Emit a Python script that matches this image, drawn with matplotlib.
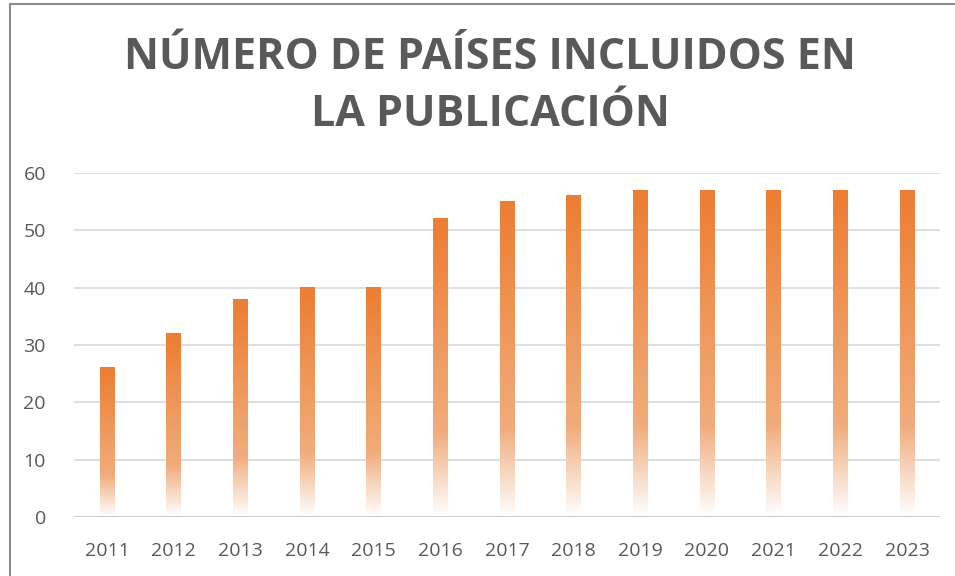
import matplotlib.pyplot as plt
import numpy as np
from matplotlib.colors import LinearSegmentedColormap
from matplotlib.lines import Line2D

years = ['2011', '2012', '2013', '2014', '2015', '2016', '2017',
         '2018', '2019', '2020', '2021', '2022', '2023']
countries = [26, 32, 38, 40, 40, 52, 55, 56, 57, 57, 57, 57, 57]

title = 'NÚMERO DE PAÍSES INCLUIDOS EN\nLA PUBLICACIÓN'

plt.rcParams['font.family'] = ['Open Sans', 'DejaVu Sans']

fig = plt.figure(figsize=(9.55, 5.76), dpi=100)
ax = fig.add_axes([73.7 / 955, 1 - 517 / 576, (940.3 - 73.7) / 955, (517 - 173) / 576])

# gradient: white at bottom -> orange at top
cmap = LinearSegmentedColormap.from_list(
    'fade', [(0.0, '#FFFFFF'), (0.12, '#F8DCC8'), (0.28, '#F1AC7C'), (1.0, '#ED7D31')])
grad = np.linspace(0, 1, 256).reshape(-1, 1)

x = np.arange(len(years))
w = 0.22
for xi, v in zip(x, countries):
    ax.imshow(grad, extent=[xi - w / 2, xi + w / 2, 0, v], origin='lower',
              cmap=cmap, aspect='auto', zorder=3, interpolation='nearest')

ax.set_xlim(-0.5, len(years) - 0.5)
ax.set_ylim(0, 60)
ax.set_yticks(np.arange(0, 61, 10))
ax.set_xticks(x)
ax.set_xticklabels(years)
ax.grid(axis='y', color='#D9D9D9', linewidth=1.2, zorder=0)
ax.axhline(0, color='#D0D0D0', linewidth=1.5, zorder=5)
for s in ax.spines.values():
    s.set_visible(False)
ax.tick_params(length=0, labelsize=14, labelcolor='#595959')
ax.tick_params(axis='x', pad=18)
ax.tick_params(axis='y', pad=20)

fig.text(490 / 955, 1 - 86 / 576, title, ha='center', va='center', fontsize=31,
         fontweight='bold', color='#595959', linespacing=1.4)

# chart frame
fig.add_artist(Line2D([10 / 955, 10 / 955], [0, 1 - 4 / 576], color='#8C8C8C', linewidth=1.5))
fig.add_artist(Line2D([10 / 955, 1], [1 - 4 / 576, 1 - 4 / 576], color='#8C8C8C', linewidth=1.5))

fig.savefig('out.png', dpi=100)
